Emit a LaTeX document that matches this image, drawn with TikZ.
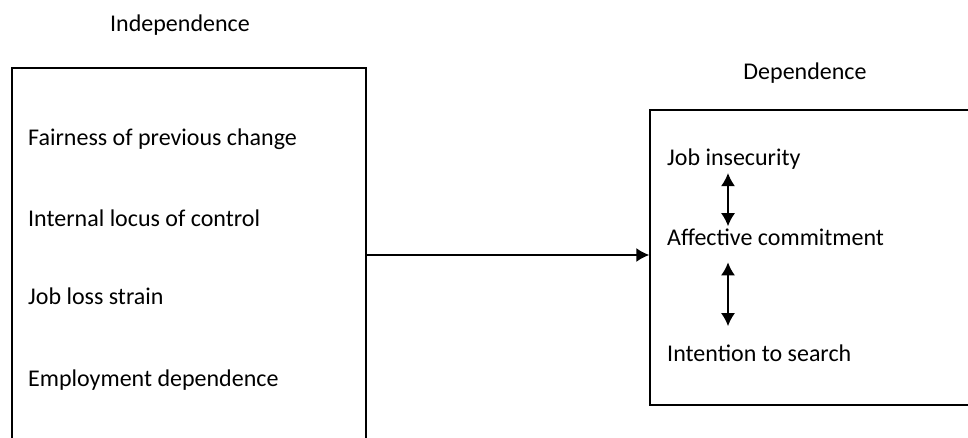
\documentclass[tikz,border=0pt]{standalone}
\usepackage{fontspec}
\setmainfont{Carlito}
\usepackage{tikz}
\usetikzlibrary{arrows, arrows.meta, positioning}

\begin{document}
\begin{tikzpicture}[x=1pt, y=-1pt,
    box/.style={draw, line width=1.5pt, inner sep=0pt},
    item/.style={anchor=base west, inner sep=0pt, font=\fontsize{24}{28}\selectfont},
    heading/.style={inner sep=0pt, font=\fontsize{24}{28}\selectfont},
    link/.style={line width=1.6pt},
    tip/.tip={Latex[length=13pt, width=14pt]}]
            \useasboundingbox (0,0) rectangle (968,438);
            \clip (0,0) rectangle (968,438);
            % \tikzstyle{every node}=[font=\large]
            \node[box, minimum width=354pt, minimum height=374pt] (indep) at (189,255) {};
            \node[box, minimum width=360pt, minimum height=295pt] (dep) at (830,257.5) {};
            \node[heading] (indeptitle) at (180,25) {Independence};
            \node[heading] (deptitle) at (805,73) {Dependence};

            \node[item] (fair) at (28,146) {Fairness of previous change};
            \node[item] (locus) at (28,226) {Internal locus of control};
            \node[item] (strain) at (28,304) {Job loss strain};
            \node[item] (employ) at (28,386) {Employment dependence};

            \node[item] (insec) at (667,166) {Job insecurity};
            \node[item] (affect) at (667,246) {Affective commitment};
            \node[item] (search) at (667,361) {Intention to search};
            \coordinate (arrx) at (728,0);

            \path[-tip]  (indep.east) edge [link] (indep.east -| dep.west);
            \path[tip-tip]  ([yshift=-3pt]insec.south -| arrx) edge [link] ([yshift=3pt]affect.north -| arrx);
            \path[tip-tip]  ([yshift=-16pt]affect.south -| arrx) edge [link] ([yshift=18pt]search.north -| arrx);
        \end{tikzpicture}
\end{document}
